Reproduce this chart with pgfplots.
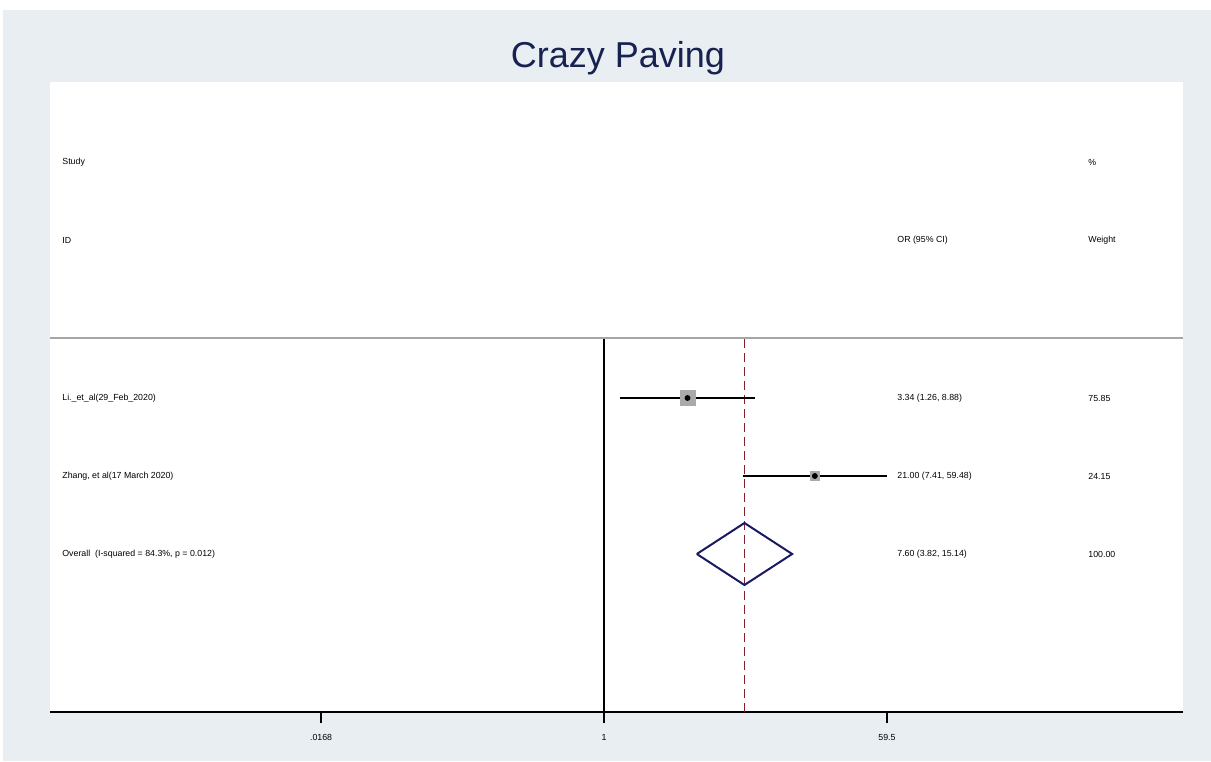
\documentclass[border=0pt]{standalone}
\usepackage{pgfplots}
\pgfplotsset{compat=1.18}
\usepackage{fontspec}
\setmainfont{Liberation Sans}
\definecolor{bg}{RGB}{232,238,242}
\definecolor{navy}{RGB}{24,34,80}
\definecolor{diam}{RGB}{26,26,100}
\definecolor{maroon}{RGB}{130,30,45}
\definecolor{sqgray}{RGB}{170,170,170}
\newcommand{\sm}{\fontsize{4.4}{5}\selectfont}
\begin{document}
\begin{tikzpicture}
\useasboundingbox (-25pt,-24.5pt) rectangle (580.5pt,356pt);
\fill[white] (-25pt,-24.5pt) rectangle (580.5pt,356pt);
\fill[bg] (-23.5pt,-24.5pt) rectangle (580.5pt,351pt);
\begin{axis}[
  at={(0pt,0pt)}, anchor=south west,
  scale only axis, width=566.5pt, height=315pt,
  xmode=log, xmin=0.000335, xmax=4280, ymin=0, ymax=630,
  axis background/.style={fill=white},
  axis x line*=bottom, hide y axis,
  x axis line style={line width=1pt, black, -},
  xtick={0.0168,1,59.5}, xticklabels={.0168,1,59.5},
  minor xtick={},
  tick align=outside, major tick length=5.5pt,
  major tick style={black, line width=0.6pt},
  xticklabel style={font=\sm, yshift=-2pt},
  clip=false,
]
% header separator
\addplot[color=gray!70, line width=0.7pt] coordinates {(0.000335,374) (4280,374)};
% null line
\addplot[black, line width=0.7pt] coordinates {(1,0) (1,373)};
% overall effect dashed
\addplot[maroon, line width=0.9pt, dash pattern=on 4.5pt off 2.5pt] coordinates {(7.60,0) (7.60,373)};
% CIs
\addplot[black, line width=1.1pt] coordinates {(1.26,314) (8.88,314)};
\addplot[black, line width=1.1pt] coordinates {(7.41,236) (59.48,236)};
% weight squares
\addplot[only marks, mark=square*, mark size=3.75pt, mark options={fill=sqgray, draw=sqgray}] coordinates {(3.34,314)};
\addplot[only marks, mark=square*, mark size=2.25pt, mark options={fill=sqgray, draw=sqgray}] coordinates {(21.00,236)};
% point estimates
\addplot[only marks, mark=*, mark size=1.25pt, mark options={fill=black, draw=black}] coordinates {(3.34,314) (21.00,236)};
% overall diamond
\addplot[diam, line width=1pt] coordinates {(3.82,158) (7.60,189) (15.14,158) (7.60,127) (3.82,158)};
\end{axis}
% title
\node[text=navy, font=\fontsize{18}{20}\selectfont] at (284pt,327pt) {Crazy Paving};
% column headers
\node[anchor=west, font=\sm, inner sep=0pt] at (6pt,275pt) {Study};
\node[anchor=west, font=\sm, inner sep=0pt] at (6pt,236pt) {ID};
\node[anchor=west, font=\sm, inner sep=0pt] at (423.5pt,236pt) {OR (95\% CI)};
\node[anchor=west, font=\sm, inner sep=0pt] at (519pt,275pt) {\%};
\node[anchor=west, font=\sm, inner sep=0pt] at (519pt,236pt) {Weight};
% rows
\node[anchor=west, font=\sm, inner sep=0pt] at (6pt,157pt) {Li.\_et\_al(29\_Feb\_2020)};
\node[anchor=west, font=\sm, inner sep=0pt] at (6pt,118pt) {Zhang, et al(17 March 2020)};
\node[anchor=west, font=\sm, inner sep=0pt] at (6pt,79pt) {Overall\ \ (I-squared = 84.3\%, p = 0.012)};
\node[anchor=west, font=\sm, inner sep=0pt] at (423.5pt,157pt) {3.34 (1.26, 8.88)};
\node[anchor=west, font=\sm, inner sep=0pt] at (423.5pt,118pt) {21.00 (7.41, 59.48)};
\node[anchor=west, font=\sm, inner sep=0pt] at (423.5pt,79pt) {7.60 (3.82, 15.14)};
\node[anchor=west, font=\sm, inner sep=0pt] at (519pt,157pt) {75.85};
\node[anchor=west, font=\sm, inner sep=0pt] at (519pt,118pt) {24.15};
\node[anchor=west, font=\sm, inner sep=0pt] at (519pt,79pt) {100.00};
\end{tikzpicture}
\end{document}
